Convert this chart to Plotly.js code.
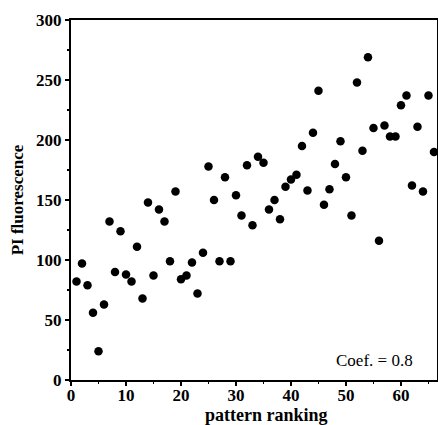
<!DOCTYPE html>
<html>
<head>
<meta charset="utf-8">
<script src="https://cdn.plot.ly/plotly-3.0.1.min.js"></script>
<style>html,body{margin:0;padding:0;background:#fff;}#chart{width:438px;height:425px;}</style>
</head>
<body>
<div id="chart"></div>
<script>
const patternRanking = [1,2,3,4,5,6,7,8,9,10,11,12,13,14,15,16,17,18,19,20,21,22,23,24,25,26,27,28,29,30,31,32,33,34,35,36,37,38,39,40,41,42,43,44,45,46,47,48,49,50,51,52,53,54,55,56,57,58,59,60,61,62,63,64,65,66];
const piFluorescence = [82,97,79,56,24,63,132,90,124,88,82,111,68,148,87,142,132,99,157,84,87,98,72,106,178,150,99,169,99,154,137,179,129,186,181,142,150,134,161,167,171,195,158,206,241,146,159,180,199,169,137,248,191,269,210,116,212,203,203,229,237,162,211,157,237,190];
const yTicks = [0,50,100,150,200,250,300];
const xTicks = [0,10,20,30,40,50,60];
const xTitle = "pattern ranking";
const yTitle = "PI fluorescence";
const coefLabel = "Coef. = 0.8";

const serif = "Liberation Serif, Times New Roman, serif";
const trace = {
  x: patternRanking, y: piFluorescence, type: 'scatter', mode: 'markers',
  marker: {color: '#000', size: 8.5, line: {width: 0}},
  cliponaxis: false, hoverinfo: 'none'
};
const layout = {
  width: 438, height: 425,
  margin: {l: 71, r: 1, t: 20, b: 45},
  paper_bgcolor: '#fff', plot_bgcolor: '#fff',
  showlegend: false,
  xaxis: {
    range: [0, 66.55], tickvals: xTicks, ticktext: xTicks.map(String),
    ticks: 'outside', ticklen: 4, tickwidth: 1.5, tickcolor: '#000',
    ticklabelstandoff: -5,
    minor: {dtick: 5, tick0: 0, ticks: 'outside', ticklen: 2, tickcolor: '#000'},
    showgrid: false, zeroline: false,
    showline: true, linecolor: '#000', linewidth: 2, mirror: true,
    tickfont: {family: serif, size: 17, color: '#000', weight: 'bold'}
  },
  yaxis: {
    range: [0, 300], tickvals: yTicks, ticktext: yTicks.map(String),
    ticks: 'outside', ticklen: 4, tickwidth: 1.5, tickcolor: '#000',
    minor: {dtick: 25, tick0: 0, ticks: 'outside', ticklen: 2, tickcolor: '#000'},
    showgrid: false, zeroline: false,
    showline: true, linecolor: '#000', linewidth: 2, mirror: true,
    tickfont: {family: serif, size: 17, color: '#000', weight: 'bold'},
    title: {text: yTitle, font: {family: serif, size: 17, color: '#000', weight: 'bold'}, standoff: 8}
  },
  annotations: [{
    x: 1, y: 0, xref: 'paper', yref: 'paper', xanchor: 'right', yanchor: 'bottom',
    xshift: -22, yshift: 8, showarrow: false, text: coefLabel,
    font: {family: serif, size: 17, color: '#000'}
  }, {
    x: 0.5355, y: 0, xref: 'paper', yref: 'paper', xanchor: 'center', yanchor: 'top',
    yshift: -23, showarrow: false, text: xTitle,
    font: {family: serif, size: 18, color: '#000', weight: 'bold'}
  }]
};
Plotly.newPlot('chart', [trace], layout, {staticPlot: true, displayModeBar: false});
</script>
</body>
</html>
